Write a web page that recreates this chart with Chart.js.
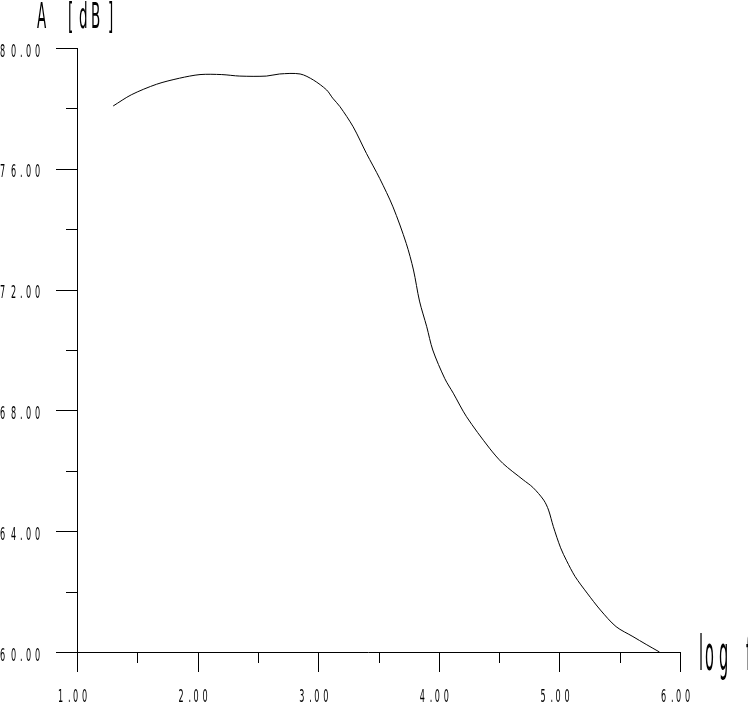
<!DOCTYPE html>
<html>
<head>
<meta charset="utf-8">
<script src="https://cdn.jsdelivr.net/npm/chart.js@4"></script>
<style>
  body { margin: 0; background: #fff; }
  canvas { display: block; }
</style>
</head>
<body>
<canvas id="mycanvas" width="748" height="708"></canvas>
<script>
// log f vs A [dB]
var logF = [1.30, 1.45, 1.66, 1.85, 2.02, 2.20, 2.35, 2.57, 2.68, 2.85, 2.96, 3.07, 3.12, 3.18, 3.29, 3.40, 3.51, 3.62, 3.73, 3.79, 3.84, 3.90, 3.95, 4.05, 4.12, 4.23, 4.42, 4.53, 4.70, 4.78, 4.87, 4.91, 4.95, 5.01, 5.06, 5.13, 5.23, 5.34, 5.47, 5.61, 5.72, 5.83];
var ampl = [78.08, 78.45, 78.80, 79.00, 79.12, 79.12, 79.07, 79.07, 79.14, 79.14, 78.94, 78.61, 78.34, 78.06, 77.39, 76.51, 75.68, 74.74, 73.53, 72.65, 71.62, 70.77, 70.00, 69.05, 68.57, 67.79, 66.75, 66.25, 65.70, 65.45, 65.03, 64.70, 64.15, 63.45, 63.02, 62.50, 61.95, 61.39, 60.84, 60.51, 60.25, 60.00];

var xTicks = [1, 1.5, 2, 2.5, 3, 3.5, 4, 4.5, 5, 5.5, 6];
var yTicks = [60, 62, 64, 66, 68, 70, 72, 74, 76, 78, 80];
var xLabelEvery = 1;
var yLabelEvery = 4;

var FONT = "'DejaVu Sans Condensed', 'DejaVu Sans', sans-serif";

var points = [];
for (var i = 0; i < logF.length; i++) {
  points.push({x: logF[i], y: ampl[i]});
}

function isMajor(v, every) {
  return Math.abs(v / every - Math.round(v / every)) < 1e-6;
}

// stretched plotter-style characters, one by one
function drawChars(ctx, text, offs, x, y, size, sx, sy) {
  ctx.font = size + 'px ' + FONT;
  for (var k = 0; k < text.length; k++) {
    ctx.save();
    ctx.translate(x + offs[k], y);
    ctx.scale(sx, sy);
    ctx.fillText(text[k], 0, 0);
    ctx.restore();
  }
}

var axesPlugin = {
  id: 'plotterAxes',
  afterDraw: function(chart) {
    var ctx = chart.ctx;
    var xs = chart.scales.x, ys = chart.scales.y;
    var x0 = Math.round(xs.getPixelForValue(xs.min));
    var x1 = Math.round(xs.getPixelForValue(xs.max));
    var y0 = Math.round(ys.getPixelForValue(ys.min));
    var y1 = Math.round(ys.getPixelForValue(ys.max));
    ctx.save();
    ctx.strokeStyle = '#000';
    ctx.lineWidth = 1;
    ctx.beginPath();
    ctx.moveTo(x0 - 21, y0 + 0.5); ctx.lineTo(x1 + 1, y0 + 0.5);
    ctx.moveTo(x0 + 0.5, y1); ctx.lineTo(x0 + 0.5, y0 + 20);
    xTicks.forEach(function(v) {
      var px = Math.round(xs.getPixelForValue(v)) + 0.5;
      var len = isMajor(v, xLabelEvery) ? 20 : 11;
      ctx.moveTo(px, y0); ctx.lineTo(px, y0 + len);
    });
    yTicks.forEach(function(v) {
      var py = Math.round(ys.getPixelForValue(v)) + 0.5;
      var len = isMajor(v, yLabelEvery) ? 21 : 11;
      ctx.moveTo(x0, py); ctx.lineTo(x0 - len, py);
    });
    ctx.stroke();

    ctx.fillStyle = '#000';
    ctx.textBaseline = 'alphabetic';
    ctx.textAlign = 'left';

    // tick labels
    xTicks.forEach(function(v) {
      if (!isMajor(v, xLabelEvery)) return;
      var px = xs.getPixelForValue(v);
      drawChars(ctx, v.toFixed(2), [-19, -9, -4, 5], px, 702, 10, 0.9, 1.8);
    });
    yTicks.forEach(function(v) {
      if (!isMajor(v, yLabelEvery)) return;
      var py = ys.getPixelForValue(v);
      drawChars(ctx, v.toFixed(2), [0, 11, 20, 26, 35], 0, py + 8.5, 10, 0.9, 1.8);
    });

    // axis titles
    drawChars(ctx, 'A[dB]', [37, 68, 79, 91, 108], 0, 28, 15, 1, 2.4);
    drawChars(ctx, 'logf', [699, 705, 719, 746], 0, 670, 19, 0.85, 2.5);
    ctx.restore();
  }
};

var ctx = document.getElementById('mycanvas');

var lineChart = new Chart(ctx, {
  type: 'line',
  data: {
    datasets: [{
      data: points,
      borderColor: '#000',
      borderWidth: 1,
      pointRadius: 0,
      fill: false,
      tension: 0.3
    }]
  },
  options: {
    responsive: false,
    animation: false,
    events: [],
    layout: { padding: { top: 48, right: 68, left: 0, bottom: 0 } },
    plugins: { legend: { display: false }, tooltip: { enabled: false } },
    scales: {
      x: {
        type: 'linear',
        min: 1, max: 6,
        afterFit: function(scale) { scale.height = 56; },
        grid: { display: false, drawTicks: false },
        border: { display: false },
        ticks: { display: false }
      },
      y: {
        type: 'linear',
        min: 60, max: 80,
        afterFit: function(scale) { scale.width = 77; },
        grid: { display: false, drawTicks: false },
        border: { display: false },
        ticks: { display: false }
      }
    }
  },
  plugins: [axesPlugin]
});
</script>
</body>
</html>
